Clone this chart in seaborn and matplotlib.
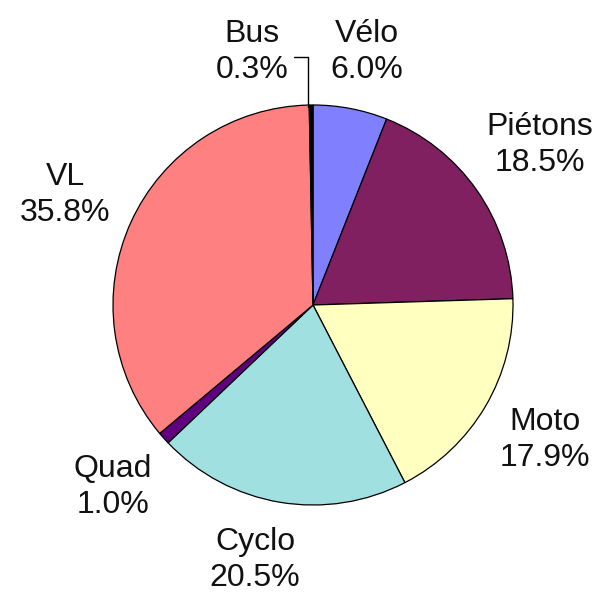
import matplotlib
matplotlib.use("Agg")
import matplotlib.pyplot as plt
import seaborn as sns

categories = ["Vélo", "Piétons", "Moto", "Cyclo", "Quad", "VL", "Bus"]
values = [6.0, 18.5, 17.9, 20.5, 1.0, 35.8, 0.3]
colors = ["#8080FF", "#802060", "#FFFFC0", "#A0E0E0", "#600080", "#FF8080", "#000000"]

# label anchor positions (data coords, pie radius = 1)
label_pos = {
    "Vélo": (0.27, 1.265),
    "Piétons": (1.135, 0.80),
    "Moto": (1.16, -0.675),
    "Cyclo": (-0.29, -1.275),
    "Quad": (-1.0, -0.91),
    "VL": (-1.24, 0.55),
    "Bus": (-0.305, 1.265),
}

sns.set_theme(style="white")
plt.rcParams["font.family"] = ["Liberation Sans", "DejaVu Sans"]

fig = plt.figure(figsize=(6.11, 6.0), dpi=100)
ax = fig.add_axes([0, 0, 1, 1])
ax.pie(values, colors=colors, startangle=90, counterclock=False, radius=1,
       wedgeprops=dict(edgecolor="black", linewidth=0.9))

for cat, val in zip(categories, values):
    x, y = label_pos[cat]
    ax.text(x, y, f"{cat}\n{val:.1f}%", ha="center", va="center",
            fontsize=23, color="#111111", linespacing=1.3)

# leader line for Bus
ax.plot([-0.025, -0.025, -0.095], [0.99, 1.24, 1.24], color="black", lw=1.0)

ax.set_xlim(-313 / 200, (611 - 313) / 200)
ax.set_ylim(-(600 - 305) / 200, 305 / 200)
ax.set_aspect("auto")
ax.axis("off")
fig.savefig("out.png", dpi=100, facecolor="white")
